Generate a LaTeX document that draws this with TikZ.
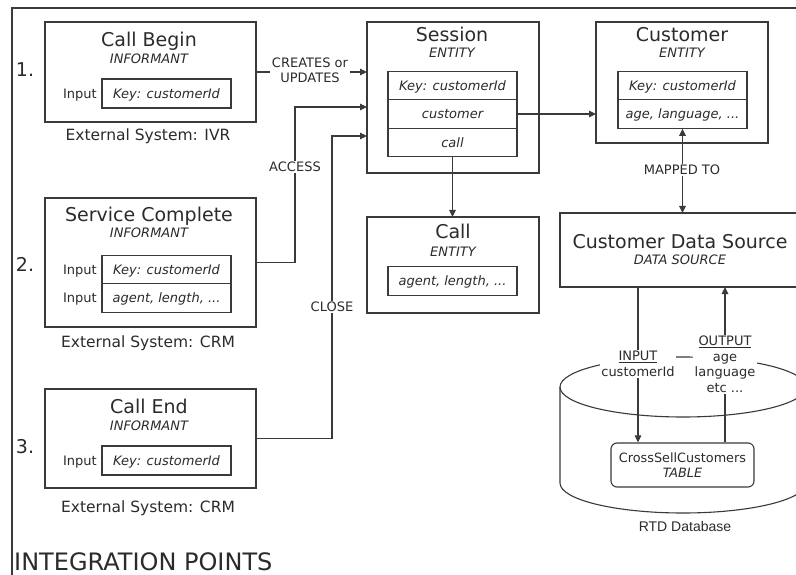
\documentclass[tikz,border=0pt]{standalone}
\usepackage{fontspec}
\setmainfont{DejaVu Sans}
\newfontfamily\arialf{Liberation Sans}
\usetikzlibrary{arrows.meta,calc}
\definecolor{ln}{HTML}{3A3A3A}
\definecolor{tx}{HTML}{2B2B2B}
\begin{document}
\begin{tikzpicture}[x=1pt,y=-1pt,
  box/.style={draw=ln, line width=1.3pt, fill=white, inner sep=0pt, outer sep=0pt},
  ttl/.style={text=tx, font=\fontsize{19}{22}\selectfont, inner sep=0pt, text height=13.9pt, text depth=0pt},
  sub/.style={text=tx, font=\fontsize{13}{15}\selectfont\itshape, inner sep=0pt, text height=9.5pt, text depth=0pt},
  ext/.style={text=tx, font=\fontsize{15.5}{18}\selectfont, inner sep=0pt, text height=11.3pt, text depth=0pt},
  num/.style={text=tx, font=\fontsize{19}{22}\selectfont, inner sep=0pt, text height=13.9pt, text depth=0pt},
  inp/.style={text=tx, font=\fontsize{13}{15}\selectfont, inner sep=0pt, text height=9.5pt, text depth=0pt, anchor=east},
  cell/.style={draw=ln, line width=1.1pt, minimum width=129pt, minimum height=28.5pt, inner sep=0pt,
    font=\fontsize{13}{15}\selectfont\itshape, text=tx, text height=9.5pt, text depth=0pt},
  lab/.style={text=tx, font=\fontsize{13}{15.5}\selectfont, fill=white, inner sep=1.5pt, align=center},
  arr/.style={draw=ln, line width=1.1pt, -{Triangle[length=7pt,width=6.5pt]}},
  darr/.style={draw=ln, line width=1.1pt, {Triangle[length=7pt,width=6.5pt]}-{Triangle[length=7pt,width=6.5pt]}},
  con/.style={draw=ln, line width=1.1pt}
]
\clip (0,0) rectangle (796,575);
\fill[white] (0,0) rectangle (796,575);
% frame
\draw[ln, line width=1.4pt] (12,575) -- (12,8) -- (800,8);

% ---------- informants ----------
\node[box, minimum width=211pt, minimum height=100pt] (cb) at (150.5,72) {};
\node[ttl] (cbT) at (149,40) {Call Begin};
\node[sub] (cbS) at (149,59) {INFORMANT};
\node[cell, minimum height=29pt] (cbI) at (166.5,93.5) {Key: customerId};
\node[inp] (cbL) at (97,93.5) {Input};
\node[ext] (cbE) at (148,135) {External System: IVR};
\node[num] (n1) at (25,70) {1.};

\node[box, minimum width=211pt, minimum height=129pt] (sc) at (150.5,262.5) {};
\node[ttl] (scT) at (149,215) {Service Complete};
\node[sub] (scS) at (149,233) {INFORMANT};
\node[cell] (scI1) at (166.5,269.5) {Key: customerId};
\node[cell] (scI2) at (166.5,298) {agent, length, ...};
\node[inp] (scL1) at (97,269.5) {Input};
\node[inp] (scL2) at (97,298) {Input};
\node[ext] (scE) at (148,342) {External System: CRM};
\node[num] (n2) at (25,265) {2.};

\node[box, minimum width=211pt, minimum height=99pt] (ce) at (150.5,438.5) {};
\node[ttl] (ceT) at (149,407) {Call End};
\node[sub] (ceS) at (149,426) {INFORMANT};
\node[cell, minimum height=29pt] (ceI) at (166.5,460.5) {Key: customerId};
\node[inp] (ceL) at (97,460.5) {Input};
\node[ext] (ceE) at (148,507) {External System: CRM};
\node[num] (n3) at (25,447) {3.};

\node[text=tx, font=\fontsize{24}{27}\selectfont, inner sep=0pt, text height=17.5pt, text depth=0pt, anchor=west] (ip) at (14,562) {INTEGRATION POINTS};

% ---------- entities ----------
\node[box, minimum width=172pt, minimum height=151pt] (ses) at (453,97.5) {};
\node[ttl] (sesT) at (452,35) {Session};
\node[sub] (sesS) at (452,53) {ENTITY};
\node[cell] (sr1) at (452.5,85.5) {Key: customerId};
\node[cell] (sr2) at (452.5,114) {customer};
\node[cell] (sr3) at (452.5,142.5) {call};

\node[box, minimum width=172pt, minimum height=121pt] (cust) at (682,82.5) {};
\node[ttl] (custT) at (682,35) {Customer};
\node[sub] (custS) at (682,53) {ENTITY};
\node[cell] (ct1) at (682.5,85.5) {Key: customerId};
\node[cell] (ct2) at (682.5,114) {age, language, ...};

\node[box, minimum width=172pt, minimum height=96pt] (call) at (453,265) {};
\node[ttl] (callT) at (453,232) {Call};
\node[sub] (callS) at (453,252) {ENTITY};
\node[cell] (callI) at (452.5,281) {agent, length, ...};

% ---------- data source ----------
\node[box, minimum width=240pt, minimum height=74pt] (cds) at (680,250) {};
\node[ttl] (cdsT) at (680,242) {Customer Data Source};
\node[sub] (cdsS) at (680,260) {DATA SOURCE};

% ---------- database cylinder ----------
\draw[ln, line width=1.1pt] (560,387) -- (560,483) arc[start angle=180, end angle=360, x radius=123pt, y radius=30pt] -- (806,387);
\draw[ln, line width=1.1pt] (683,387) ellipse[x radius=123pt, y radius=30pt];
\node[draw=ln, line width=1.1pt, rounded corners=6pt, minimum width=143pt, minimum height=44pt, inner sep=0pt,
  align=center, text=tx, font=\fontsize{12.8}{15}\selectfont] (tbl) at (682.5,465) {CrossSellCustomers\\\textit{TABLE}};
\node[text=tx, font=\arialf\fontsize{14}{16}\selectfont, inner sep=0pt] (rtd) at (685,526) {RTD Database};

% ---------- connectors ----------
\coordinate (accx) at (295,107);
\coordinate (clox) at (332,136);
\draw[arr] (cb.east) -- (cb.east -| ses.west);
\node[lab] (creates) at (310,70.5) {CREATES or\\UPDATES};

\draw[arr] (sc.east) -| (accx) -- (accx -| ses.west);
\node[lab] (access) at (295,167) {ACCESS};

\draw[arr] (ce.east) -| (clox) -- (clox -| ses.west);
\node[lab] (close) at (332,307) {CLOSE};

\draw[arr] (sr2.east) -- (sr2.east -| cust.west);
\draw[arr] (sr3.south) -- (sr3.south |- call.north);

\draw[darr] (ct2.south) -- (ct2.south |- cds.north);
\node[lab] (mapped) at (682,170) {MAPPED TO};

\coordinate (inx) at (638,0);
\coordinate (outx) at (725,0);
\draw[arr] (cds.south -| inx) -- (tbl.north -| inx);
\draw[arr] (tbl.north -| outx) -- (cds.south -| outx);
\node[lab] (inl) at (638,364) {\underline{INPUT}\\customerId};
\node[lab] (outl) at (725,364.5) {\underline{OUTPUT}\\age\\language\\etc ...};
\end{tikzpicture}
\end{document}
